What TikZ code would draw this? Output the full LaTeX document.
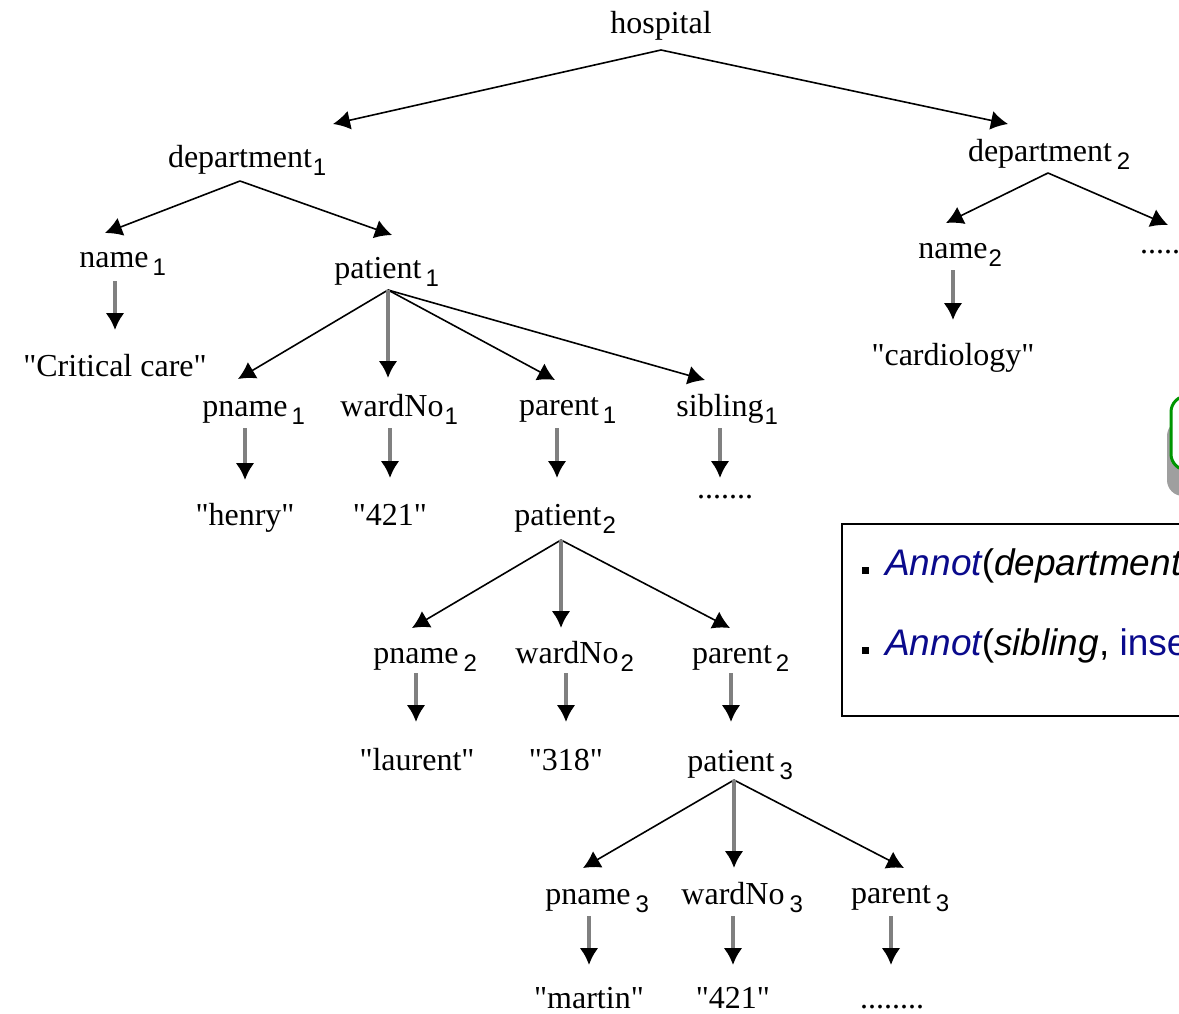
\documentclass[tikz,border=0pt]{standalone}
\usepackage{fontspec}
\setmainfont{Liberation Serif}[Ligatures=TeXOff]
\newfontfamily\subf{Liberation Sans}
\newfontfamily\annf{Liberation Sans}
\usetikzlibrary{arrows.meta}
\definecolor{annblue}{RGB}{10,10,140}
\definecolor{boxgreen}{RGB}{0,150,0}
\definecolor{shaftgray}{RGB}{128,128,128}
\newcommand\mysub[2][2pt]{\rlap{\hspace{#1}\raisebox{-8pt}{\fontsize{24}{28}\subf #2}}}
\newcommand\qq{\char34\relax}
\tikzset{
  lbl/.style={inner sep=0pt, anchor=base, font=\fontsize{32}{38}\selectfont},
  dline/.style={line width=1.6pt, -{Latex[length=17pt,width=19pt]}},
  vline/.style={line width=4pt, draw=shaftgray, -{Latex[length=17pt,width=19pt,color=black]}},
  bullet/.style={fill=black, minimum size=7pt, inner sep=0pt},
  anntext/.style={inner sep=0pt, anchor=base west, font=\fontsize{37}{43}\annf}
}
\begin{document}
\begin{tikzpicture}[x=1pt,y=1pt]
\useasboundingbox (0,0) rectangle (1179,-1013);
\clip (0,0) rectangle (1179,-1013);
\fill[white] (0,0) rectangle (1179,-1013);

% nodes
\node[lbl] (hosp) at (661,-33) {hospital};
\node[lbl] (d1) at (240,-167) {department\mysub[1pt]{1}};
\node[lbl] (d2) at (1040,-161) {department\mysub[5pt]{2}};
\node[lbl] (n1) at (114,-267) {name\mysub[4pt]{1}};
\node[lbl] (p1) at (378,-278) {patient\mysub[4pt]{1}};
\node[lbl] (cc) at (115,-376) {"Critical care"};
\node[lbl] (pn1) at (245,-416) {pname\mysub[4pt]{1}};
\node[lbl] (w1) at (392,-416) {wardNo\mysub[1pt]{1}};
\node[lbl] (par1) at (559,-415) {parent\mysub[4pt]{1}};
\node[lbl] (s1) at (720,-416) {sibling\mysub[1pt]{1}};
\node[lbl] (hen) at (245,-525) {"henry"};
\node[lbl] (va) at (390,-525) {"421"};
\node[lbl] (p2) at (558,-525) {patient\mysub[1pt]{2}};
\node[lbl] (dt1) at (725,-498) {.......};
\node[lbl] (pn2) at (416,-663) {pname\mysub[5pt]{2}};
\node[lbl] (w2) at (567,-663) {wardNo\mysub[2pt]{2}};
\node[lbl] (par2) at (732,-663) {parent\mysub[4pt]{2}};
\node[lbl] (la) at (417,-770) {"laurent"};
\node[lbl] (vb) at (566,-770) {"318"};
\node[lbl] (p3) at (731,-771) {patient\mysub[5pt]{3}};
\node[lbl] (pn3) at (588,-904) {pname\mysub[5pt]{3}};
\node[lbl] (w3) at (733,-904) {wardNo\mysub[5pt]{3}};
\node[lbl] (par3) at (891,-903) {parent\mysub[5pt]{3}};
\node[lbl] (ma) at (589,-1008) {"martin"};
\node[lbl] (vc) at (733,-1008) {"421"};
\node[lbl] (dt3) at (892,-1008) {........};
\node[lbl] (n2) at (953,-258) {name\mysub[1pt]{2}};
\node[lbl] (card) at (953,-365) {"cardiology"};
\node[lbl, anchor=base west] (dt2) at (1140,-253) {.....};

% diagonal edges
\draw[dline] ([shift={(0,-17)}]hosp.base) -- ([shift={(93,43)}]d1.base);
\draw[dline] ([shift={(0,-17)}]hosp.base) -- ([shift={(-32,37)}]d2.base);
\draw[dline] ([shift={(0,-14)}]d1.base) -- ([shift={(-9,34)}]n1.base);
\draw[dline] ([shift={(0,-14)}]d1.base) -- ([shift={(14,43)}]p1.base);
\draw[dline] ([shift={(10,-12)}]p1.base) -- ([shift={(-7,37)}]pn1.base);
\draw[dline] ([shift={(10,-12)}]p1.base) -- ([shift={(-4,35)}]par1.base);
\draw[dline] ([shift={(10,-12)}]p1.base) -- ([shift={(-15,36)}]s1.base);
\draw[dline] ([shift={(3,-15)}]p2.base) -- ([shift={(-4,35)}]pn2.base);
\draw[dline] ([shift={(3,-15)}]p2.base) -- ([shift={(-2,35)}]par2.base);
\draw[dline] ([shift={(3,-9)}]p3.base) -- ([shift={(-5,36)}]pn3.base);
\draw[dline] ([shift={(3,-9)}]p3.base) -- ([shift={(13,35)}]par3.base);
\draw[dline] ([shift={(8,-12)}]d2.base) -- ([shift={(-7,35)}]n2.base);
\draw[dline] ([shift={(8,-12)}]d2.base) -- ([shift={(28,28)}]dt2.base west);

% vertical edges
\draw[vline] ([shift={(10,-12)}]p1.base) -- ([shift={(-4,38)}]w1.base);
\draw[vline] ([shift={(3,-15)}]p2.base) -- ([shift={(-6,35)}]w2.base);
\draw[vline] ([shift={(3,-9)}]p3.base) -- ([shift={(1,36)}]w3.base);
\draw[vline] ([shift={(1,-14)}]n1.base) -- ([shift={(0,46)}]cc.base);
\draw[vline] ([shift={(0,-12)}]pn1.base) -- ([shift={(0,45)}]hen.base);
\draw[vline] ([shift={(-2,-12)}]w1.base) -- ([shift={(0,47)}]va.base);
\draw[vline] ([shift={(-2,-13)}]par1.base) -- ([shift={(-1,47)}]p2.base);
\draw[vline] ([shift={(0,-12)}]s1.base) -- ([shift={(-5,20)}]dt1.base);
\draw[vline] ([shift={(0,-10)}]pn2.base) -- ([shift={(-1,48)}]la.base);
\draw[vline] ([shift={(-1,-10)}]w2.base) -- ([shift={(0,48)}]vb.base);
\draw[vline] ([shift={(-1,-10)}]par2.base) -- ([shift={(0,49)}]p3.base);
\draw[vline] ([shift={(1,-12)}]pn3.base) -- ([shift={(0,43)}]ma.base);
\draw[vline] ([shift={(0,-12)}]w3.base) -- ([shift={(0,43)}]vc.base);
\draw[vline] ([shift={(0,-13)}]par3.base) -- ([shift={(-1,43)}]dt3.base);
\draw[vline] ([shift={(0,-12)}]n2.base) -- ([shift={(0,45)}]card.base);

% green callout (clipped)
\fill[rounded corners=16pt, gray!75] (1167,-420) rectangle (1260,-496);
\draw[rounded corners=16pt, boxgreen, line width=3pt, fill=white] (1171,-396) rectangle (1260,-470);

% annotation box (clipped)
\draw[line width=1.4pt] (842,-524) rectangle (1200,-716);
\node[bullet] (b1) at (865,-570) {};
\node[anntext] (t1) at (885,-575) {\textcolor{annblue}{\itshape Annot}(\itshape department};
\node[bullet] (b2) at (865,-650) {};
\node[anntext] (t2) at (885,-655) {\textcolor{annblue}{\itshape Annot}(\textit{sibling}, \textcolor{annblue}{inse}};
\end{tikzpicture}
\end{document}
